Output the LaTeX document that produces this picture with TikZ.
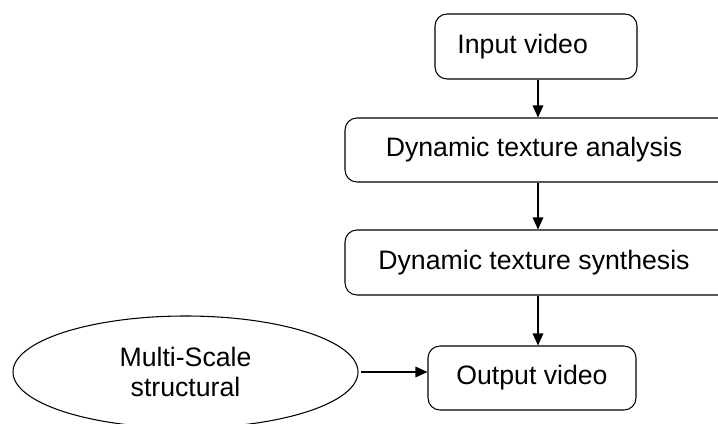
\documentclass[tikz,border=0pt]{standalone}
\usepackage{fontspec}
\setmainfont{Liberation Sans}
\usetikzlibrary{shapes.geometric,arrows.meta}

\tikzset{
  stagebox/.style={draw, thick, rounded corners=9pt, align=center, inner sep=0pt},
  sidebox/.style={draw, thick, ellipse, align=center, inner sep=0pt},
  flow/.style={-{Triangle[length=9pt,width=8pt]}, thick}
}

\begin{document}
\begin{tikzpicture}[x=0.75pt, y=-0.75pt, font=\fontsize{20}{23}\selectfont, line width=1.1pt]
    \useasboundingbox (0,0) rectangle (718,424);
    \clip (0,0) rectangle (718,424);

    \node[stagebox, minimum width=151.5pt, minimum height=48.75pt] (invid) at (536,46.5) {Input video\hspace*{20pt}};
    \node[stagebox, minimum width=289.5pt, minimum height=48pt] (analysis) at (538,150) {\hspace*{-6pt}Dynamic texture analysis};
    \node[stagebox, minimum width=289.5pt, minimum height=48.75pt] (synthesis) at (538,262.5) {\hspace*{-6pt}Dynamic texture synthesis};
    \node[stagebox, minimum width=156pt, minimum height=48pt] (outvid) at (532,378) {Output video};
    \node[sidebox, minimum width=258.75pt, minimum height=84pt] (msstruct) at (185.5,372) {Multi-Scale\\structural};

    \draw[flow] ([xshift=1.5pt]invid.south) -- ([xshift=1.5pt]invid.south |- analysis.north);
    \draw[flow] (analysis.south) -- (synthesis.north);
    \draw[flow] (synthesis.south) -- (synthesis.south |- outvid.north);
    \draw[flow] ([xshift=2pt]msstruct.east) -- (outvid.west |- msstruct.east);

    %\draw[red] (0,0) rectangle (718,424);
\end{tikzpicture}
\end{document}
